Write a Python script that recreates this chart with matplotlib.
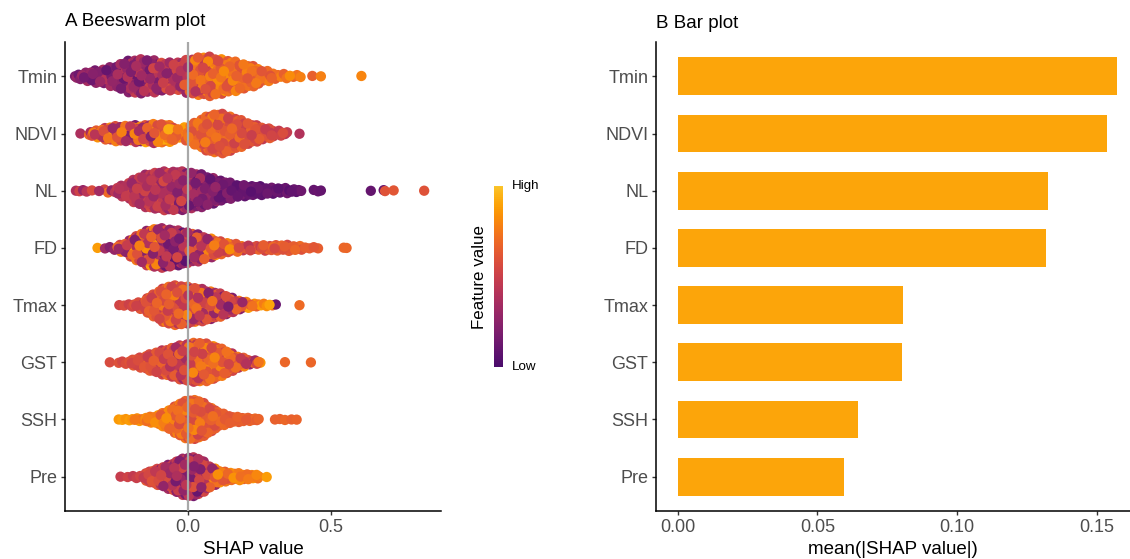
import numpy as np
import matplotlib
matplotlib.use("Agg")
import matplotlib.pyplot as plt
from matplotlib.colors import ListedColormap
from matplotlib.cm import ScalarMappable
from matplotlib.colors import Normalize

plt.rcParams['font.family'] = ['Liberation Sans', 'DejaVu Sans']

# ---------------- data ----------------
features = ["Tmin", "NDVI", "NL", "FD", "Tmax", "GST", "SSH", "Pre"]
mean_abs_shap = [0.1573, 0.1537, 0.1325, 0.1318, 0.0808, 0.0804, 0.0645, 0.0596]

# SHAP-value histogram bins (centres, width 0.05)
bin_centers = [-0.375, -0.325, -0.275, -0.225, -0.175, -0.125, -0.075, -0.025,
               0.025, 0.075, 0.125, 0.175, 0.225, 0.275, 0.325, 0.375]

# number of points per bin
counts_Tmin = [8, 14, 17, 30, 38, 32, 28, 28, 40, 40, 35, 28, 23, 10, 5, 4]
counts_NDVI = [0, 10, 22, 23, 23, 28, 29, 9, 32, 55, 58, 40, 26, 16, 7, 0]
counts_NL   = [4, 2, 4, 15, 38, 48, 50, 52, 45, 38, 24, 16, 14, 10, 8, 6]
counts_FD   = [0, 0, 3, 12, 42, 60, 58, 50, 42, 30, 17, 10, 7, 9, 10, 9]
counts_Tmax = [0, 0, 0, 3, 7, 38, 74, 72, 62, 53, 40, 17, 7, 5, 0, 0]
counts_GST  = [0, 0, 1, 4, 16, 34, 47, 61, 74, 65, 47, 20, 8, 0, 0, 0]
counts_SSH  = [0, 0, 0, 4, 6, 14, 35, 85, 105, 60, 20, 12, 8, 0, 0, 0]
counts_Pre  = [0, 0, 0, 2, 4, 30, 45, 75, 95, 40, 20, 14, 12, 1, 0, 0]

# mean scaled feature value (0 = low, 1 = high) per bin
fval_Tmin = [0.24, 0.24, 0.26, 0.27, 0.3, 0.34, 0.4, 0.45, 0.6, 0.65, 0.7, 0.7, 0.7, 0.68, 0.7, 0.75]
fval_NDVI = [0, 0.6, 0.6, 0.55, 0.5, 0.55, 0.75, 0.75, 0.68, 0.65, 0.62, 0.6, 0.58, 0.55, 0.5, 0]
fval_NL   = [0.45, 0.45, 0.5, 0.42, 0.42, 0.42, 0.42, 0.35, 0.25, 0.2, 0.15, 0.12, 0.1, 0.1, 0.1, 0.1]
fval_FD   = [0, 0, 0.3, 0.5, 0.55, 0.55, 0.35, 0.3, 0.42, 0.55, 0.65, 0.6, 0.55, 0.6, 0.62, 0.65]
fval_Tmax = [0, 0, 0, 0.55, 0.55, 0.6, 0.62, 0.6, 0.55, 0.5, 0.45, 0.5, 0.75, 0.8, 0, 0]
fval_GST  = [0, 0, 0.58, 0.58, 0.58, 0.58, 0.55, 0.5, 0.62, 0.68, 0.66, 0.6, 0.45, 0, 0, 0]
fval_SSH  = [0, 0, 0, 0.88, 0.8, 0.78, 0.75, 0.68, 0.66, 0.64, 0.65, 0.65, 0.66, 0, 0, 0]
fval_Pre  = [0, 0, 0, 0.5, 0.5, 0.55, 0.4, 0.35, 0.35, 0.55, 0.72, 0.75, 0.77, 0.85, 0, 0]

# spread of feature values within each bin
fspread_Tmin = [0.14, 0.15, 0.16, 0.16, 0.18, 0.2, 0.2, 0.2, 0.2, 0.2, 0.15, 0.12, 0.1, 0.1, 0.1, 0.08]
fspread_NDVI = [0, 0.3, 0.3, 0.35, 0.35, 0.35, 0.2, 0.15, 0.12, 0.12, 0.12, 0.12, 0.1, 0.1, 0.08, 0]
fspread_NL   = [0.2, 0.2, 0.25, 0.12, 0.12, 0.12, 0.15, 0.2, 0.15, 0.12, 0.08, 0.06, 0.05, 0.05, 0.05, 0.05]
fspread_FD   = [0, 0, 0.1, 0.35, 0.35, 0.35, 0.25, 0.25, 0.3, 0.3, 0.2, 0.15, 0.15, 0.12, 0.08, 0.06]
fspread_Tmax = [0, 0, 0, 0.05, 0.08, 0.12, 0.15, 0.2, 0.25, 0.3, 0.3, 0.3, 0.15, 0.1, 0, 0]
fspread_GST  = [0, 0, 0.05, 0.05, 0.08, 0.1, 0.15, 0.2, 0.2, 0.15, 0.15, 0.2, 0.3, 0, 0, 0]
fspread_SSH  = [0, 0, 0, 0.04, 0.08, 0.1, 0.12, 0.12, 0.15, 0.1, 0.05, 0.04, 0.04, 0, 0, 0]
fspread_Pre  = [0, 0, 0, 0.05, 0.05, 0.1, 0.2, 0.2, 0.25, 0.3, 0.15, 0.1, 0.08, 0.05, 0, 0]

# isolated tail points (SHAP value, scaled feature value)
tail_x_Tmin = [0.435, 0.465, 0.607]
tail_c_Tmin = [0.66, 0.78, 0.8]
tail_x_NDVI = [-0.378, 0.39]
tail_c_NDVI = [0.38, 0.4]
tail_x_NL = [0.44, 0.455, 0.465, 0.64, 0.685, 0.69, 0.72, 0.827]
tail_c_NL = [0.1, 0.12, 0.1, 0.1, 0.12, 0.6, 0.62, 0.6]
tail_x_FD = [-0.318, 0.41, 0.425, 0.44, 0.455, 0.545, 0.555]
tail_c_FD = [0.88, 0.65, 0.65, 0.62, 0.65, 0.68, 0.68]
tail_x_Tmax = [0.307, 0.39]
tail_c_Tmax = [0.12, 0.7]
tail_x_GST = [0.253, 0.339, 0.43]
tail_c_GST = [0.85, 0.68, 0.68]
tail_x_SSH = [0.304, 0.321, 0.339, 0.362, 0.38]
tail_c_SSH = [0.66, 0.66, 0.68, 0.66, 0.67]
tail_x_Pre = []
tail_c_Pre = []

counts = dict(Tmin=counts_Tmin, NDVI=counts_NDVI, NL=counts_NL, FD=counts_FD,
              Tmax=counts_Tmax, GST=counts_GST, SSH=counts_SSH, Pre=counts_Pre)
fvals = dict(Tmin=fval_Tmin, NDVI=fval_NDVI, NL=fval_NL, FD=fval_FD,
             Tmax=fval_Tmax, GST=fval_GST, SSH=fval_SSH, Pre=fval_Pre)
fspreads = dict(Tmin=fspread_Tmin, NDVI=fspread_NDVI, NL=fspread_NL, FD=fspread_FD,
                Tmax=fspread_Tmax, GST=fspread_GST, SSH=fspread_SSH, Pre=fspread_Pre)
tails_x = dict(Tmin=tail_x_Tmin, NDVI=tail_x_NDVI, NL=tail_x_NL, FD=tail_x_FD,
               Tmax=tail_x_Tmax, GST=tail_x_GST, SSH=tail_x_SSH, Pre=tail_x_Pre)
tails_c = dict(Tmin=tail_c_Tmin, NDVI=tail_c_NDVI, NL=tail_c_NL, FD=tail_c_FD,
               Tmax=tail_c_Tmax, GST=tail_c_GST, SSH=tail_c_SSH, Pre=tail_c_Pre)

BIN_W = 0.05

# ---------------- helpers ----------------
def halton(i, b):
    f, r = 1.0, 0.0
    while i > 0:
        f /= b
        r += f * (i % b)
        i //= b
    return r

cmap = ListedColormap(plt.cm.inferno(np.linspace(0.22, 0.86, 256)))
BAR_COLOR = "#FCA50A"
TICK_COLOR = "#4D4D4D"

fig = plt.figure(figsize=(11.30, 5.59), dpi=100)
W, H = 1130.0, 559.0

def frac_box(x0, y0, x1, y1):
    return [x0 / W, 1 - y1 / H, (x1 - x0) / W, (y1 - y0) / H]

ax1 = fig.add_axes(frac_box(65, 42, 441, 511))
ax2 = fig.add_axes(frac_box(656, 42, 1130, 511))
cax = fig.add_axes(frac_box(494, 186, 503, 367))

n_feat = len(features)
ypos = {f: n_feat - i for i, f in enumerate(features)}

# ---------------- beeswarm (sina-like layout) ----------------
for feat in features:
    xs, ms, ss = [], [], []
    for c, n, m, s in zip(bin_centers, counts[feat], fvals[feat], fspreads[feat]):
        lo = c - BIN_W / 2
        for j in range(n):
            xs.append(lo + (j + 0.5) / n * BIN_W)
            ms.append(m)
            ss.append(s)
    for tx, tc in zip(tails_x[feat], tails_c[feat]):
        xs.append(tx)
        ms.append(tc)
        ss.append(0.0)
    xs = np.array(xs)
    ms = np.array(ms)
    ss = np.array(ss)
    srt = np.argsort(xs, kind="stable")
    xs, ms, ss = xs[srt], ms[srt], ss[srt]
    npt = len(xs)
    idx = np.arange(1, npt + 1)
    cvals = np.clip(ms + ss * np.array([2 * halton(i, 3) - 1 for i in idx]), 0, 1)
    bw = 0.03
    d = np.exp(-0.5 * ((xs[:, None] - xs[None, :]) / bw) ** 2).sum(axis=1)
    hh = 0.35 * d / d.max()
    u = np.array([2 * halton(i, 2) - 1 for i in idx])
    ys = ypos[feat] + hh * u
    order = np.argsort([halton(i, 7) for i in idx])
    ax1.scatter(xs[order], ys[order], c=cvals[order], cmap=cmap, vmin=0, vmax=1,
                s=55, linewidths=0, zorder=2)

ax1.axvline(0, color="#A8A8A8", lw=1.6, zorder=3)
ax1.set_xlim(-0.432, 0.886)
ax1.set_ylim(0.4, 8.6)
ax1.set_xticks([0.0, 0.5])
ax1.set_xticklabels(["0.0", "0.5"])
ax1.set_yticks([ypos[f] for f in features])
ax1.set_yticklabels(features)

# ---------------- bar plot ----------------
ax2.barh([ypos[f] for f in features], mean_abs_shap, height=0.66, color=BAR_COLOR,
         edgecolor="none", zorder=2)
ax2.set_xlim(-0.00787, 0.162)
ax2.set_ylim(0.4, 8.6)
ax2.set_xticks([0.0, 0.05, 0.10, 0.15])
ax2.set_xticklabels(["0.00", "0.05", "0.10", "0.15"])
ax2.set_yticks([ypos[f] for f in features])
ax2.set_yticklabels(features)

for ax in (ax1, ax2):
    for side in ("top", "right"):
        ax.spines[side].set_visible(False)
    for side in ("left", "bottom"):
        ax.spines[side].set_linewidth(1.1)
        ax.spines[side].set_color("black")
    ax.tick_params(axis="both", direction="out", length=3, width=1.0, color="#333333",
                   labelcolor=TICK_COLOR, labelsize=13)
    ax.tick_params(axis="x", pad=3)
    ax.tick_params(axis="y", pad=2.5)
    ax.set_facecolor("white")

# ---------------- colour bar ----------------
sm = ScalarMappable(norm=Normalize(0, 1), cmap=cmap)
cb = fig.colorbar(sm, cax=cax)
cb.outline.set_visible(False)
cb.set_ticks([])
fig.text(512 / W, 1 - 186 / H, "High", fontsize=9.6, color="black", ha="left", va="center")
fig.text(512 / W, 1 - 367 / H, "Low", fontsize=9.6, color="black", ha="left", va="center")
fig.text(479 / W, 1 - 277 / H, "Feature value", fontsize=12.2, color="black",
         rotation=90, ha="center", va="center")

# ---------------- titles and axis titles ----------------
fig.text(65 / W, 1 - 22 / H, "A Beeswarm plot", fontsize=13.5, color="black", ha="left", va="center")
fig.text(656 / W, 1 - 23 / H, "B Bar plot", fontsize=13.5, color="black", ha="left", va="center")
fig.text(253 / W, 1 - 549 / H, "SHAP value", fontsize=13.5, color="black", ha="center", va="center")
fig.text(893 / W, 1 - 549 / H, "mean(|SHAP value|)", fontsize=13.5, color="black", ha="center", va="center")

fig.savefig("out.png", dpi=100, facecolor="white")
